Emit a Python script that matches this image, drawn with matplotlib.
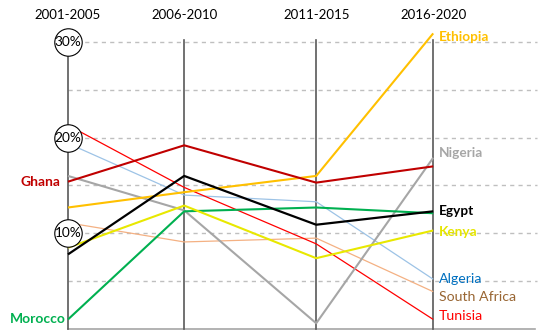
import matplotlib
matplotlib.use("Agg")
import matplotlib.pyplot as plt

periods = ["2001-2005", "2006-2010", "2011-2015", "2016-2020"]
ghana = [15.4, 19.2, 15.3, 17.0]
tunisia = [21.3, 14.8, 8.9, 1.0]
algeria = [19.4, 14.0, 13.3, 5.2]
nigeria = [16.0, 12.4, 0.6, 17.9]
egypt = [7.8, 16.0, 10.9, 12.3]
ethiopia = [12.7, 14.3, 16.0, 30.9]
kenya = [8.5, 12.9, 7.4, 10.3]
morocco = [1.0, 12.3, 12.7, 12.1]
south_africa = [11.1, 9.1, 9.5, 3.9]
grid_levels = [5, 10, 15, 20, 25, 30]
circle_levels = [10, 20, 30]
circle_labels = ["10%", "20%", "30%"]

# layout (axis positions, not data)
xpos = [0, 1.0, 2.136, 3.143]

plt.rcParams['font.family'] = ['Lato', 'DejaVu Sans']
fig = plt.figure(figsize=(5.5, 3.36), dpi=100)
ax = fig.add_axes([0, 0, 1, 1])
px_x = 116.2
px_y = 9.567
ax.set_xlim(-68 / px_x, (550 - 68) / px_x)
ax.set_ylim(-(336 - 329) / px_y, 30 + 42 / px_y)
ax.axis('off')

xr = (537 - 68) / px_x
for g in grid_levels:
    ax.plot([0, xr], [g, g], color='#BFBFBF', lw=1.0, ls=(0, (3, 3)), zorder=1)
ax.plot([0, (535 - 68) / px_x], [0, 0], color='#A6A6A6', lw=1.2, zorder=1)

for i, x in enumerate(xpos):
    top = 30 if i == 0 else 30.2
    ax.plot([x, x], [0, top], color='#595959', lw=1.2, zorder=2)
    ax.text(x, 30 + 27 / px_y, periods[i], ha='center', va='center', fontsize=9.5, color='black')

series = [
    (south_africa, '#F4B183', 0.9, "South Africa", '#996633', 'normal', 297),
    (algeria, '#9DC3E6', 0.9, "Algeria", '#0070C0', 'normal', 279),
    (tunisia, '#FF0000', 0.9, "Tunisia", '#FF0000', 'normal', 316),
    (nigeria, '#A6A6A6', 1.5, "Nigeria", '#A6A6A6', 'bold', 153),
    (morocco, '#00B050', 1.5, None, None, None, None),
    (kenya, '#E8E800', 1.5, "Kenya", '#E5E500', 'bold', 232),
    (ethiopia, '#FFC000', 1.5, "Ethiopia", '#FFC000', 'bold', 37),
    (egypt, '#000000', 1.6, "Egypt", '#000000', 'bold', 211),
    (ghana, '#C00000', 1.5, None, None, None, None),
]
for vals, col, lw, lab, lcol, wt, ypx in series:
    ax.plot(xpos, vals, color=col, lw=lw, zorder=3, solid_capstyle='butt')
    if lab:
        ax.text(xpos[3] + 6 / px_x, 30 - (ypx - 42) / px_y, lab, ha='left', va='center',
                fontsize=9.8 if wt == 'bold' else 10.2, color=lcol, fontweight=wt, zorder=5)

ax.text(-8 / px_x, ghana[0], "Ghana", ha='right', va='center', fontsize=10,
        color='#C00000', fontweight='bold')
ax.text(-2 / px_x, morocco[0], "Morocco", ha='right', va='center', fontsize=10,
        color='#00B050', fontweight='bold')

ax.scatter([0] * len(circle_levels), circle_levels, s=390, facecolor='white',
           edgecolor='black', linewidths=0.8, zorder=6)
for lv, lb in zip(circle_levels, circle_labels):
    ax.text(0, lv, lb, ha='center', va='center', fontsize=9.8, color='black', zorder=7)

fig.savefig("out.png", dpi=100)
